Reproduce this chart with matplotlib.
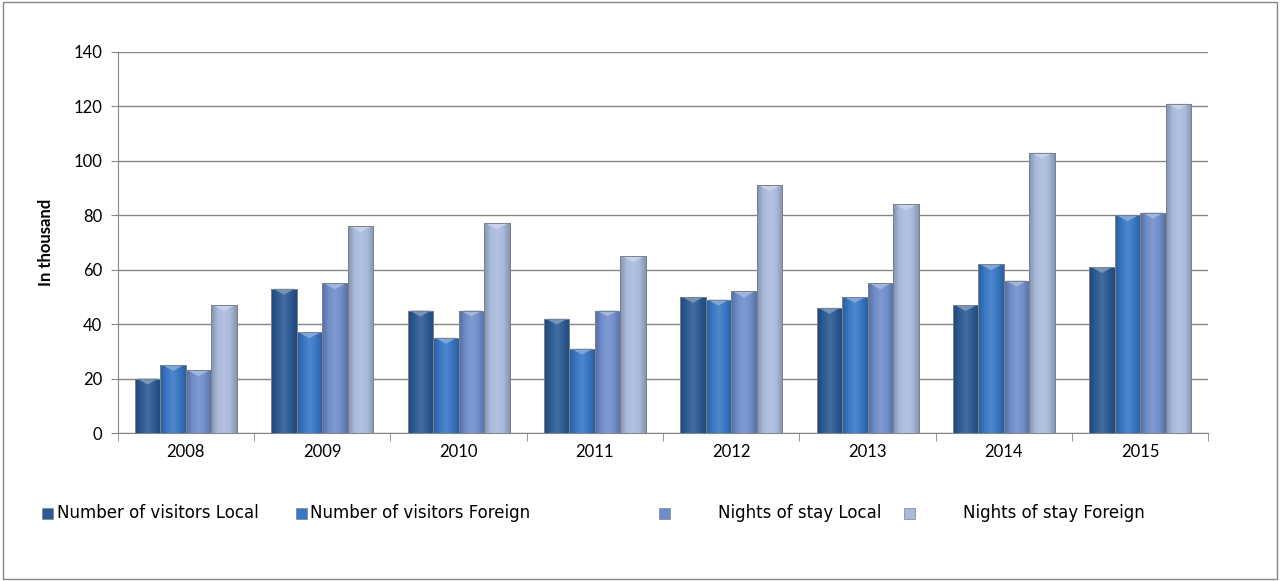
import numpy as np
import matplotlib.pyplot as plt
from matplotlib.patches import Rectangle
from matplotlib.colors import LinearSegmentedColormap, to_rgb

years = ["2008", "2009", "2010", "2011", "2012", "2013", "2014", "2015"]
visitors_local = [20, 53, 45, 42, 50, 46, 47, 61]
visitors_foreign = [25, 37, 35, 31, 49, 50, 62, 80]
nights_local = [23, 55, 45, 45, 52, 55, 56, 81]
nights_foreign = [47, 76, 77, 65, 91, 84, 103, 121]

labels = ["Number of visitors Local", "Number of visitors Foreign",
          "Nights of stay Local", "Nights of stay Foreign"]
values = [visitors_local, visitors_foreign, nights_local, nights_foreign]
colors = ["#2c5b94", "#3877c4", "#6f8dca", "#a9badc"]

plt.rcParams["font.family"] = ["Lato", "DejaVu Sans"]


def shade(c, f):
    r = np.array(to_rgb(c))
    if f < 1:
        return tuple(r * f)
    return tuple(r + (1 - r) * (f - 1))


fig = plt.figure(figsize=(12.8, 5.81), dpi=100)
fig.patches.append(Rectangle((0.002, 0.003), 0.996, 0.994, transform=fig.transFigure,
                             fill=False, edgecolor="#868686", linewidth=1))
ax = fig.add_axes([0.092, 0.2547, 0.852, 0.6558])

x = np.arange(len(years))
w = 0.187
grad = np.linspace(0, 1, 64).reshape(1, -1)
for i, (vals, color) in enumerate(zip(values, colors)):
    bars = ax.bar(x + (i - 1.5) * w, vals, w, color=color, edgecolor="#7a8290",
                  linewidth=0.7, zorder=3)
    cmap = LinearSegmentedColormap.from_list(
        "b%d" % i, [shade(color, 0.78), color, shade(color, 1.12), color, shade(color, 0.8)])
    for b in bars:
        x0, h = b.get_x(), b.get_height()
        im = ax.imshow(grad, cmap=cmap, extent=[x0, x0 + w, 0, h], aspect="auto",
                       zorder=3.5, interpolation="bilinear")
        im.set_clip_path(b)
        # bevel highlight on top of each bar
        tri = plt.Polygon([[x0 + 0.08 * w, h], [x0 + 0.92 * w, h], [x0 + 0.5 * w, h - 2.2]],
                          closed=True, color=shade(color, 1.35), zorder=3.8, linewidth=0)
        ax.add_patch(tri)
        ax.add_patch(Rectangle((x0, 0), w, h, fill=False, edgecolor="#7a8290",
                               linewidth=0.7, zorder=4))

ax.set_xlim(-0.5, len(years) - 0.5)
ax.set_ylim(0, 140)
ax.set_yticks(range(0, 141, 20))
ax.grid(axis="y", color="#868686", linewidth=1, zorder=0)
ax.set_xticks(x)
ax.set_xticklabels(years, fontsize=12)
ax.set_xticks(np.arange(-0.5, len(years), 1), minor=True)
ax.tick_params(axis="x", which="major", length=0, pad=8)
ax.tick_params(axis="x", which="minor", length=6, color="#868686")
ax.tick_params(axis="y", length=5, color="#868686", labelsize=12, pad=6)
for s in ["top", "right"]:
    ax.spines[s].set_visible(False)
for s in ["left", "bottom"]:
    ax.spines[s].set_color("#868686")
ax.set_ylabel("In thousand", fontsize=12, fontweight="bold", labelpad=14)

# legend entries placed like the original (marker, then text)
marker_x = [42, 296, 659, 904]
text_x = [57, 310, 718, 963]
ly = 513
for lab, color, mx, tx in zip(labels, colors, marker_x, text_x):
    fig.patches.append(Rectangle((mx / 1280, 1 - (ly + 6) / 581), 11 / 1280, 11 / 581,
                                 transform=fig.transFigure, facecolor=color,
                                 edgecolor="#7a8290", linewidth=0.5))
    fig.text(tx / 1280, 1 - ly / 581, lab, fontsize=12, va="center", ha="left",
             family="DejaVu Sans")

fig.savefig("out.png", dpi=100)
